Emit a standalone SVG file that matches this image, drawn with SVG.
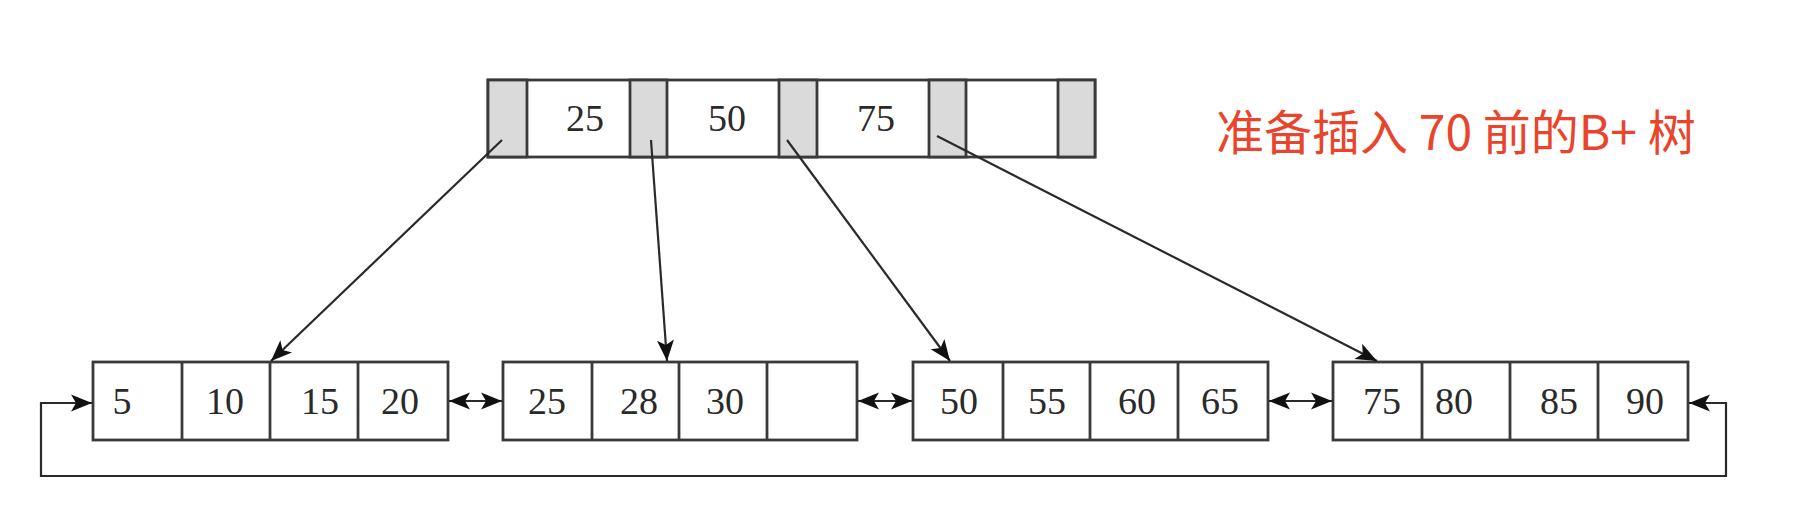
<svg xmlns="http://www.w3.org/2000/svg" width="1804" height="518" viewBox="0 0 1804 518">
<style>
.box{fill:#fff;stroke:#3a3a3a;stroke-width:2.8}
.ptr{fill:#dadada;stroke:#3a3a3a;stroke-width:2.8}
.div{stroke:#3a3a3a;stroke-width:2.8}
.num{font-family:"Liberation Serif","Times New Roman",serif;font-size:38px;fill:#2a2a2a;text-anchor:middle}
.con{fill:none;stroke:#2a2a2a;stroke-width:2.2}
.title{font-family:"Noto Sans CJK SC","Noto Sans",sans-serif;font-size:48px;fill:#e8452c}
</style>
<defs>
<marker id="ah" markerUnits="userSpaceOnUse" markerWidth="26" markerHeight="22" viewBox="-23 -11 26 22" refX="0" refY="0" orient="auto-start-reverse">
<path d="M0,0 L-21,-8.5 L-16,0 L-21,8.5 Z" fill="#111"/>
</marker>
</defs>
<rect width="1804" height="518" fill="#fff"/>
<g id="root">
<rect class="box" x="488" y="80" width="607" height="77"/>
<rect class="ptr" x="488" y="80" width="39" height="77"/>
<rect class="ptr" x="630" y="80" width="37" height="77"/>
<rect class="ptr" x="779" y="80" width="38" height="77"/>
<rect class="ptr" x="929" y="80" width="37" height="77"/>
<rect class="ptr" x="1058" y="80" width="37" height="77"/>
<text class="num" x="585" y="131">25</text>
<text class="num" x="727" y="131">50</text>
<text class="num" x="876" y="131">75</text>
</g>
<g id="leaf1">
<rect class="box" x="93" y="362" width="355" height="78"/>
<line class="div" x1="182" y1="362" x2="182" y2="440"/>
<line class="div" x1="270" y1="362" x2="270" y2="440"/>
<line class="div" x1="358" y1="362" x2="358" y2="440"/>
<text class="num" x="122" y="414">5</text>
<text class="num" x="225" y="414">10</text>
<text class="num" x="320" y="414">15</text>
<text class="num" x="400" y="414">20</text>
</g>
<g id="leaf2">
<rect class="box" x="503" y="362" width="354" height="78"/>
<line class="div" x1="592" y1="362" x2="592" y2="440"/>
<line class="div" x1="679" y1="362" x2="679" y2="440"/>
<line class="div" x1="767" y1="362" x2="767" y2="440"/>
<text class="num" x="547" y="414">25</text>
<text class="num" x="639" y="414">28</text>
<text class="num" x="725" y="414">30</text>
</g>
<g id="leaf3">
<rect class="box" x="913" y="362" width="355" height="78"/>
<line class="div" x1="1003" y1="362" x2="1003" y2="440"/>
<line class="div" x1="1090" y1="362" x2="1090" y2="440"/>
<line class="div" x1="1178" y1="362" x2="1178" y2="440"/>
<text class="num" x="959" y="414">50</text>
<text class="num" x="1047" y="414">55</text>
<text class="num" x="1137" y="414">60</text>
<text class="num" x="1220" y="414">65</text>
</g>
<g id="leaf4">
<rect class="box" x="1333" y="362" width="355" height="78"/>
<line class="div" x1="1422" y1="362" x2="1422" y2="440"/>
<line class="div" x1="1510" y1="362" x2="1510" y2="440"/>
<line class="div" x1="1598" y1="362" x2="1598" y2="440"/>
<text class="num" x="1382" y="414">75</text>
<text class="num" x="1454" y="414">80</text>
<text class="num" x="1559" y="414">85</text>
<text class="num" x="1645" y="414">90</text>
</g>
<g id="connectors">
<line class="con" x1="502" y1="140" x2="271" y2="361" marker-end="url(#ah)"/>
<line class="con" x1="651" y1="140" x2="667" y2="361" marker-end="url(#ah)"/>
<line class="con" x1="787" y1="140" x2="950" y2="361" marker-end="url(#ah)"/>
<line class="con" x1="937" y1="136" x2="1377" y2="361" marker-end="url(#ah)"/>
<line class="con" x1="449" y1="401" x2="502" y2="401" marker-start="url(#ah)" marker-end="url(#ah)"/>
<line class="con" x1="858" y1="401" x2="912" y2="401" marker-start="url(#ah)" marker-end="url(#ah)"/>
<line class="con" x1="1269" y1="401" x2="1332" y2="401" marker-start="url(#ah)" marker-end="url(#ah)"/>
<path class="con" d="M92,403 H41 V476 H1726 V403 H1689" marker-start="url(#ah)" marker-end="url(#ah)"/>
</g>
<g id="title">
<text class="title" x="1216" y="150">准备插入 70 前的B+ 树</text>
</g>
</svg>
